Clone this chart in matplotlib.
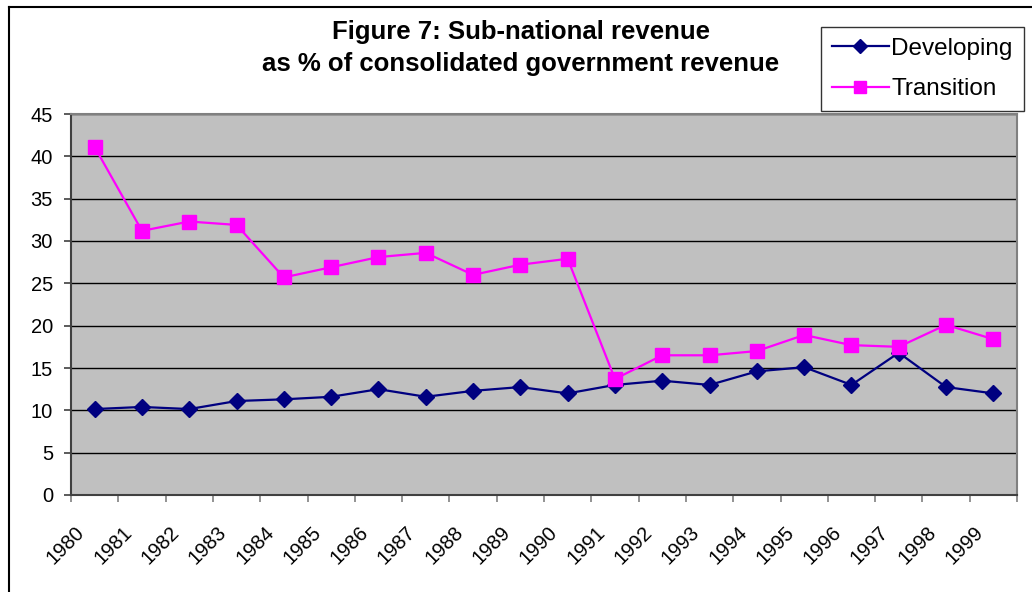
import matplotlib
matplotlib.use("Agg")
import matplotlib.pyplot as plt
from matplotlib.lines import Line2D
import matplotlib.transforms as mtransforms

plt.rcParams['font.family'] = ['Liberation Sans', 'DejaVu Sans']

years = [str(y) for y in range(1980, 2000)]
developing = [10.15, 10.4, 10.15, 11.1, 11.3, 11.6, 12.5, 11.6, 12.3, 12.75,
              12.0, 13.0, 13.5, 13.0, 14.6, 15.1, 13.0, 16.8, 12.75, 12.0]
transition = [41.1, 31.2, 32.3, 31.9, 25.7, 26.9, 28.1, 28.6, 26.0, 27.2,
              27.9, 13.7, 16.5, 16.5, 17.0, 18.9, 17.7, 17.5, 20.1, 18.4]
yticks = list(range(0, 50, 5))
title = "Figure 7: Sub-national revenue\nas % of consolidated government revenue"

W, H = 1032, 592
fig = plt.figure(figsize=(W / 100, H / 100), dpi=100)
ax = fig.add_axes([71 / W, 1 - 495 / H, (1017 - 71) / W, (495 - 114) / H])
ax.set_facecolor('#C0C0C0')

x = list(range(len(years)))
ax.plot(x, developing, color='#000080', lw=1.6, marker='D', ms=8.5,
        mfc='#000080', mec='#000080', label='Developing', zorder=3)
ax.plot(x, transition, color='#FF00FF', lw=1.6, marker='s', ms=10,
        mfc='#FF00FF', mec='#FF00FF', label='Transition', zorder=3)

ax.set_xlim(-0.5, len(years) - 0.5)
ax.set_ylim(0, 45)
ax.set_yticks(yticks)
ax.set_yticklabels([str(v) for v in yticks], fontsize=14.5)
ax.yaxis.grid(True, color='black', lw=1)
ax.set_axisbelow(True)

ax.set_xticks([i - 0.5 for i in range(len(years) + 1)])
ax.set_xticklabels([])
ax.tick_params(axis='x', direction='out', length=5, color='#808080', width=1.2)
ax.tick_params(axis='y', direction='out', length=5, color='#404040', width=1.2, pad=8)

offset = mtransforms.ScaledTranslation(-13 / 100, -34 / 100, fig.dpi_scale_trans)
for i, lab in enumerate(years):
    ax.text(i, 0, lab, transform=ax.get_xaxis_transform() + offset,
            rotation=45, ha='right', va='center', rotation_mode='anchor',
            fontsize=14.5)

for s in ['top', 'right']:
    ax.spines[s].set_color('#808080')
    ax.spines[s].set_linewidth(1.5)
for s in ['left', 'bottom']:
    ax.spines[s].set_color('#404040')
    ax.spines[s].set_linewidth(1.5)

fig.text(521 / W, 1 - 48 / H, title, ha='center', va='center',
         fontsize=18.5, fontweight='bold', linespacing=1.45)

handles = [Line2D([0], [0], color='#000080', lw=1.6, marker='D', ms=7.5),
           Line2D([0], [0], color='#FF00FF', lw=1.6, marker='s', ms=9)]
leg = fig.legend(handles, ['Developing', 'Transition'],
                 loc='upper left', bbox_to_anchor=(821 / W, 1 - 27 / H),
                 fontsize=17.5, frameon=True, fancybox=False, edgecolor='black',
                 handlelength=2.35, handletextpad=0.1, borderpad=0.45,
                 labelspacing=0.75, borderaxespad=0)
leg.get_frame().set_linewidth(1.0)

fig.add_artist(Line2D([9 / W, 9 / W], [0, 1 - 7 / H], color='black', lw=1.5,
                      transform=fig.transFigure))
fig.add_artist(Line2D([9 / W, 1], [1 - 7 / H, 1 - 7 / H], color='black', lw=1.5,
                      transform=fig.transFigure))

fig.savefig('out.png', dpi=100)
